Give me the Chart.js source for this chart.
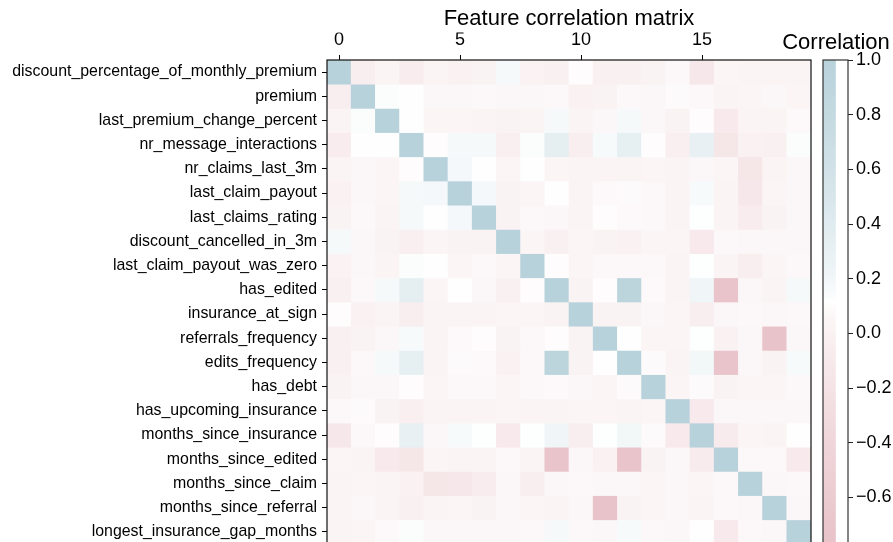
<!DOCTYPE html>
<html>
<head>
<meta charset="utf-8">
<script src="https://cdn.jsdelivr.net/npm/chart.js@4.4.1/dist/chart.umd.min.js"></script>
<style>
  html, body { margin: 0; padding: 0; background: #fff; overflow: hidden; }
  #wrap { position: relative; width: 893px; height: 542px; overflow: hidden; }
  #matrix { position: absolute; left: 0; top: 0; }
  #cbar { position: absolute; left: 760px; top: 0; }
</style>
</head>
<body>
<div id="wrap">
  <canvas id="matrix" width="893" height="544"></canvas>
  <canvas id="cbar" width="148" height="544"></canvas>
</div>
<script>
// Feature names (rows), top to bottom; columns use the same order by index
const features = [
  'discount_percentage_of_monthly_premium',
  'premium',
  'last_premium_change_percent',
  'nr_message_interactions',
  'nr_claims_last_3m',
  'last_claim_payout',
  'last_claims_rating',
  'discount_cancelled_in_3m',
  'last_claim_payout_was_zero',
  'has_edited',
  'insurance_at_sign',
  'referrals_frequency',
  'edits_frequency',
  'has_debt',
  'has_upcoming_insurance',
  'months_since_insurance',
  'months_since_edited',
  'months_since_claim',
  'months_since_referral',
  'longest_insurance_gap_months'
];

const columnLabels = features.map((_, i) => String(i));
const columnTickStep = 5;
const colorbarTicks = [1.0, 0.8, 0.6, 0.4, 0.2, 0.0, -0.2, -0.4, -0.6];

// Pairwise correlation coefficients (symmetric)
const correlations = [
  [ 1.00,-0.05, 0.03,-0.07, 0.03, 0.00, 0.02, 0.17, 0.01,-0.02, 0.10,-0.02,-0.02, 0.02, 0.06,-0.13, 0.04, 0.03, 0.03, 0.03],
  [-0.05, 1.00, 0.13, 0.11, 0.05, 0.05, 0.07, 0.05, 0.05, 0.06, 0.00, 0.02, 0.07, 0.05, 0.09, 0.06, 0.03, 0.04, 0.05, 0.04],
  [ 0.03, 0.13, 1.00, 0.11, 0.04, 0.04, 0.03, 0.02, 0.03, 0.17, 0.03, 0.05, 0.17, 0.05, 0.02, 0.10,-0.10, 0.03, 0.03, 0.08],
  [-0.07, 0.11, 0.11, 1.00, 0.10, 0.17, 0.17,-0.03, 0.13, 0.33,-0.05, 0.16, 0.32, 0.10,-0.03, 0.30,-0.15, 0.00,-0.02, 0.13],
  [ 0.03, 0.05, 0.04, 0.10, 1.00, 0.18, 0.11, 0.04, 0.11, 0.04, 0.03, 0.03, 0.03, 0.04, 0.03, 0.05, 0.04,-0.15, 0.03, 0.05],
  [ 0.00, 0.05, 0.04, 0.17, 0.18, 1.00, 0.18, 0.02, 0.04, 0.11, 0.03, 0.08, 0.09, 0.06, 0.03, 0.16, 0.03,-0.13, 0.04, 0.05],
  [ 0.02, 0.07, 0.03, 0.17, 0.11, 0.18, 1.00, 0.02, 0.06, 0.05, 0.03, 0.10, 0.08, 0.06, 0.03, 0.12, 0.03,-0.07, 0.02, 0.05],
  [ 0.17, 0.05, 0.02,-0.03, 0.04, 0.02, 0.02, 1.00, 0.04,-0.01, 0.04, 0.02, 0.00, 0.04, 0.04,-0.10, 0.07, 0.05, 0.05, 0.05],
  [ 0.01, 0.05, 0.03, 0.13, 0.11, 0.04, 0.06, 0.04, 1.00, 0.10, 0.04, 0.06, 0.07, 0.07, 0.03, 0.12, 0.03,-0.05, 0.04, 0.07],
  [-0.02, 0.06, 0.17, 0.33, 0.04, 0.11, 0.05,-0.01, 0.10, 1.00, 0.02, 0.10, 0.93, 0.08, 0.03, 0.22,-0.72, 0.05, 0.03, 0.17],
  [ 0.10, 0.00, 0.03,-0.05, 0.03, 0.03, 0.03, 0.04, 0.04, 0.02, 1.00, 0.02, 0.02, 0.05, 0.04,-0.05, 0.05, 0.06, 0.05, 0.06],
  [-0.02, 0.02, 0.05, 0.16, 0.03, 0.08, 0.10, 0.02, 0.06, 0.10, 0.02, 1.00, 0.11, 0.04, 0.04, 0.12, 0.00, 0.05,-0.77, 0.05],
  [-0.02, 0.07, 0.17, 0.32, 0.03, 0.09, 0.08, 0.00, 0.07, 0.93, 0.02, 0.11, 1.00, 0.09, 0.03, 0.20,-0.74, 0.05, 0.02, 0.16],
  [ 0.02, 0.05, 0.05, 0.10, 0.04, 0.06, 0.06, 0.04, 0.07, 0.08, 0.05, 0.04, 0.09, 1.00, 0.04, 0.09, 0.02, 0.04, 0.04, 0.06],
  [ 0.06, 0.09, 0.02,-0.03, 0.03, 0.03, 0.03, 0.04, 0.03, 0.03, 0.04, 0.04, 0.03, 0.04, 1.00,-0.10, 0.05, 0.05, 0.05, 0.05],
  [-0.13, 0.06, 0.10, 0.30, 0.05, 0.16, 0.12,-0.10, 0.12, 0.22,-0.05, 0.12, 0.20, 0.09,-0.10, 1.00,-0.08, 0.04, 0.03, 0.11],
  [ 0.04, 0.03,-0.10,-0.15, 0.04, 0.03, 0.03, 0.07, 0.03,-0.72, 0.05, 0.00,-0.74, 0.02, 0.05,-0.08, 1.00, 0.06, 0.07,-0.10],
  [ 0.03, 0.04, 0.03, 0.00,-0.15,-0.13,-0.07, 0.05,-0.05, 0.05, 0.06, 0.05, 0.05, 0.04, 0.05, 0.04, 0.06, 1.00, 0.05, 0.06],
  [ 0.03, 0.05, 0.03,-0.02, 0.03, 0.04, 0.02, 0.05, 0.04, 0.03, 0.05,-0.77, 0.02, 0.04, 0.05, 0.03, 0.07, 0.05, 1.00, 0.05],
  [ 0.03, 0.04, 0.08, 0.13, 0.05, 0.05, 0.05, 0.05, 0.07, 0.17, 0.06, 0.05, 0.16, 0.06, 0.05, 0.11,-0.10, 0.06, 0.05, 1.00]
];

// Diverging colour scale: pink (min) -> white (midpoint) -> slate blue (max),
// eased so colour leaves white quickly near the midpoint
const vmin = Math.min(...correlations.flat());
const vmax = Math.max(...correlations.flat());
const vmid = (vmin + vmax) / 2;
const NEG = [232, 195, 201];
const MID = [255, 255, 255];
const POS = [184, 210, 219];
const EASE = 0.72;

function mix(a, b, t) {
  return a.map((c, k) => Math.round(c + (b[k] - c) * t));
}
function colorFor(v) {
  let rgb;
  if (v <= vmid) {
    const t = Math.min(1, Math.max(0, (vmid - v) / (vmid - vmin)));
    rgb = mix(MID, NEG, Math.pow(t, EASE));
  } else {
    const t = Math.min(1, Math.max(0, (v - vmid) / (vmax - vmid)));
    rgb = mix(MID, POS, Math.pow(t, EASE));
  }
  return `rgb(${rgb[0]},${rgb[1]},${rgb[2]})`;
}

const FONT = "'Liberation Sans', Arial, Helvetica, sans-serif";

// Keep the plotting area exactly where the axes put it (no label overhang padding)
function noOverhang(scale) {
  scale.paddingTop = 0;
  scale.paddingBottom = 0;
  scale.paddingLeft = 0;
  scale.paddingRight = 0;
}

// Thin frame around a chart's plotting area
const frame = (color) => ({
  id: 'frame',
  afterDatasetsDraw(chart) {
    const { ctx, chartArea: a } = chart;
    ctx.save();
    ctx.strokeStyle = color;
    ctx.lineWidth = 1.2;
    ctx.strokeRect(a.left, a.top, a.right - a.left, a.bottom - a.top);
    ctx.restore();
  }
});

// Heatmap: one floating-bar dataset per row, one bar per column
const rowDatasets = correlations.map((row, r) => ({
  label: features[r],
  data: columnLabels.map(() => [r - 0.5, r + 0.5]),
  backgroundColor: row.map(colorFor),
  borderWidth: 0,
  barPercentage: 1,
  categoryPercentage: 1,
  grouped: false
}));

new Chart(document.getElementById('matrix'), {
  type: 'bar',
  data: { labels: columnLabels, datasets: rowDatasets },
  options: {
    responsive: false,
    animation: false,
    layout: { padding: { left: 0, right: 82, top: 0, bottom: 0 } },
    plugins: {
      legend: { display: false },
      tooltip: { enabled: false },
      title: {
        display: true,
        text: 'Feature correlation matrix',
        fullSize: false,
        color: '#000',
        font: { family: FONT, size: 22, weight: 'normal' },
        padding: { top: 6, bottom: 0 }
      }
    },
    scales: {
      x: {
        type: 'category',
        position: 'top',
        offset: true,
        afterFit(scale) { scale.height = 27.6; noOverhang(scale); },
        border: { display: false },
        grid: {
          offset: false,
          drawOnChartArea: false,
          drawTicks: true,
          tickLength: 5,
          lineWidth: 1,
          color: (ctx) => (ctx.index % columnTickStep === 0 ? '#000' : 'rgba(0,0,0,0)')
        },
        ticks: {
          autoSkip: false,
          maxRotation: 0,
          padding: 4,
          color: '#000',
          font: { family: FONT, size: 18 },
          callback(value, index) {
            return index % columnTickStep === 0 ? this.getLabelForValue(value) : '';
          }
        }
      },
      y: {
        type: 'linear',
        reverse: true,
        min: -0.5,
        max: features.length - 0.5,
        afterFit(scale) { scale.width = 327; noOverhang(scale); },
        afterBuildTicks(scale) {
          scale.ticks = features.map((_, i) => ({ value: i }));
        },
        border: { display: false },
        grid: {
          drawOnChartArea: false,
          drawTicks: true,
          tickLength: 5,
          color: '#000',
          lineWidth: 1
        },
        ticks: {
          autoSkip: false,
          padding: 5,
          color: '#000',
          font: { family: FONT, size: 15.9 },
          callback: (value) => features[value]
        }
      }
    }
  },
  plugins: [frame('#111')]
});

// Colour bar: a single floating bar spanning the value range, filled with the scale
const fmtTick = (v) => {
  const r = Math.round(v * 10) / 10;
  return (r < 0 ? '\u2212' : '') + Math.abs(r).toFixed(1);
};

const colorbarTitle = {
  id: 'colorbarTitle',
  afterDraw(chart) {
    const { ctx, chartArea: a } = chart;
    ctx.save();
    ctx.fillStyle = '#000';
    ctx.font = `22px ${FONT}`;
    ctx.textAlign = 'center';
    ctx.textBaseline = 'middle';
    ctx.fillText('Correlation', (a.left + a.right) / 2 + 0.5, a.top - 17);
    ctx.restore();
  }
};

const GRADIENT_STEPS = 60;

new Chart(document.getElementById('cbar'), {
  type: 'bar',
  data: {
    labels: ['Correlation'],
    datasets: [{
      data: [[vmin, vmax]],
      borderWidth: 0,
      barPercentage: 1,
      categoryPercentage: 1,
      backgroundColor(ctx) {
        const chart = ctx.chart;
        const ys = chart.scales.y;
        if (!chart.chartArea || !ys) return colorFor(vmid);
        const g = chart.ctx.createLinearGradient(0, ys.getPixelForValue(vmin), 0, ys.getPixelForValue(vmax));
        for (let i = 0; i <= GRADIENT_STEPS; i++) {
          const f = i / GRADIENT_STEPS;
          g.addColorStop(f, colorFor(vmin + (vmax - vmin) * f));
        }
        return g;
      }
    }]
  },
  options: {
    responsive: false,
    animation: false,
    layout: { padding: { left: 63, right: 0, top: 60, bottom: 0 } },
    plugins: {
      legend: { display: false },
      tooltip: { enabled: false },
      title: { display: false }
    },
    scales: {
      x: { display: false, offset: false },
      y: {
        type: 'linear',
        position: 'right',
        min: vmin,
        max: vmax,
        afterFit(scale) { scale.width = 60; noOverhang(scale); },
        afterBuildTicks(scale) {
          scale.ticks = colorbarTicks.map((v) => ({ value: v }));
        },
        border: { display: false },
        grid: {
          drawOnChartArea: false,
          drawTicks: true,
          tickLength: 5,
          color: '#222',
          lineWidth: 1
        },
        ticks: {
          padding: 3,
          color: '#000',
          font: { family: FONT, size: 18 },
          callback: (value) => fmtTick(value)
        }
      }
    }
  },
  plugins: [frame('#333'), colorbarTitle]
});
</script>
</body>
</html>
